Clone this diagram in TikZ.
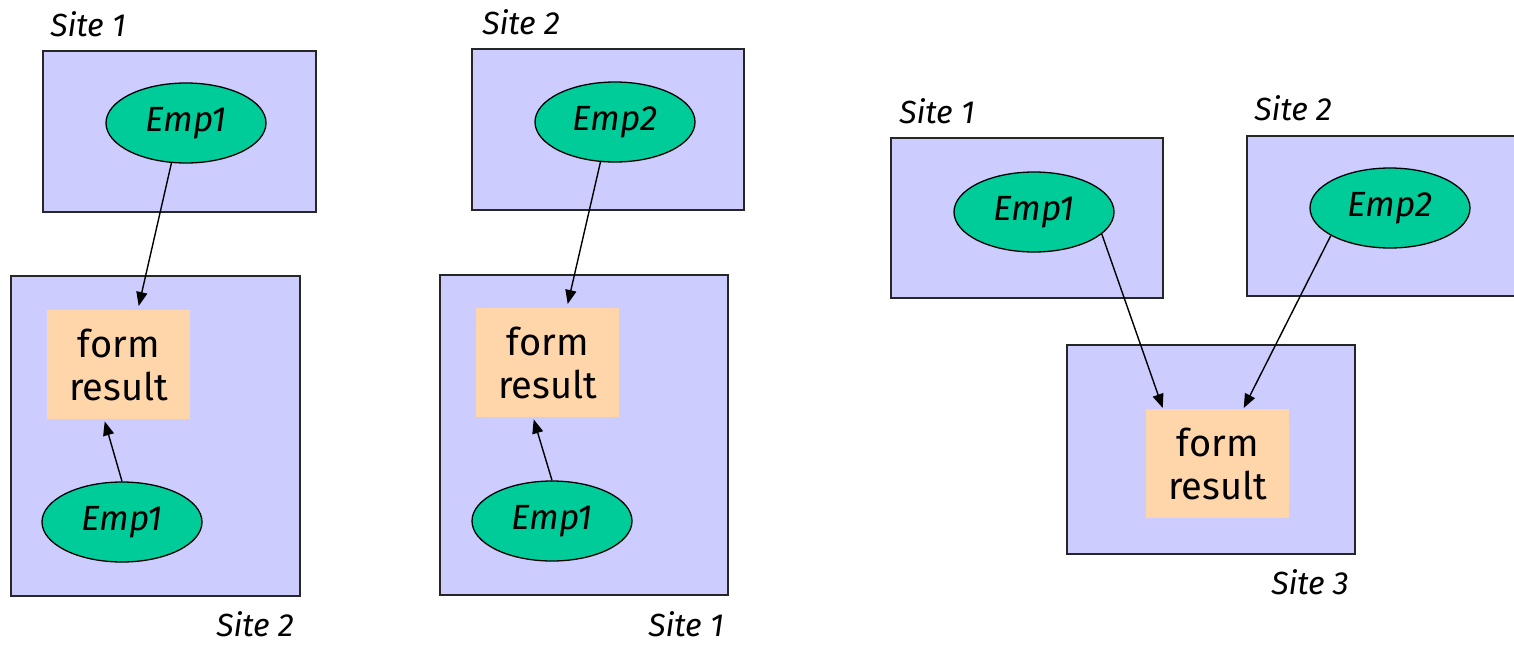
\documentclass[tikz,border=0pt]{standalone}
\usepackage{fontspec}
\setmainfont{Fira Sans}
\usetikzlibrary{shapes.geometric,arrows.meta}
\definecolor{sitefill}{HTML}{CCCCFF}
\definecolor{empfill}{HTML}{00CC99}
\definecolor{opfill}{HTML}{FFD5AA}
\begin{document}
\begin{tikzpicture}[x=1pt,y=-1pt,
  sitebox/.style={draw=black!85, line width=1.6pt, fill=sitefill, anchor=north west, inner sep=0pt},
  emp/.style={ellipse, draw=black, line width=1.3pt, fill=empfill, minimum width=160pt,
    minimum height=80pt, inner sep=0pt, font=\fontsize{35}{40}\selectfont\itshape},
  opbox/.style={fill=opfill, anchor=north west, inner sep=0pt, align=center,
    minimum width=143pt, minimum height=109pt, font=\fontsize{38}{43}\selectfont},
  sitelabel/.style={inner sep=0pt, font=\fontsize{32}{36}\selectfont\itshape},
  flow/.style={-{Triangle[length=14pt,width=11pt]}, line width=1.4pt}]
\useasboundingbox (0,0) rectangle (1514,645);
\clip (0,0) rectangle (1514,645);

% ---- left: Emp1 shipped from site 1 to site 2 ----
\node[sitebox, minimum width=273pt, minimum height=161pt] (a1) at (42,50) {};
\node[emp] (ae1) at (186,123) {Emp1};
\node[sitebox, minimum width=289pt, minimum height=320pt] (a2) at (10,275) {};
\node[opbox] (af) at (47,310) {form\\result};
\node[emp] (ae2) at (122,522) {Emp1};
\node[sitelabel] (al1) at (88,24) {Site 1};
\node[sitelabel] (al2) at (255,624) {Site 2};
\draw[flow] (ae1.-110) -- ([xshift=20pt,yshift=4pt]af.north);
\draw[flow] (ae2.north) -- ([xshift=-14pt,yshift=-2pt]af.south);

% ---- middle: Emp2 shipped from site 2 to site 1 ----
\node[sitebox, minimum width=272pt, minimum height=161pt] (b1) at (471,48) {};
\node[emp] (be1) at (615,122) {Emp2};
\node[sitebox, minimum width=288pt, minimum height=320pt] (b2) at (439,274) {};
\node[opbox] (bf) at (476,308) {form\\result};
\node[emp] (be2) at (552,521) {Emp1};
\node[sitelabel] (bl1) at (521,22) {Site 2};
\node[sitelabel] (bl2) at (686,624) {Site 1};
\draw[flow] (be1.-110) -- ([xshift=20pt,yshift=4pt]bf.north);
\draw[flow] (be2.north) -- ([xshift=-14pt,yshift=-2pt]bf.south);

% ---- right: both relations shipped to site 3 ----
\node[sitebox, minimum width=272pt, minimum height=160pt] (c1) at (890,137) {};
\node[emp] (ce1) at (1034,212) {Emp1};
\node[sitebox, minimum width=272pt, minimum height=160pt] (c2) at (1246,135) {};
\node[emp] (ce2) at (1390,208) {Emp2};
\node[sitebox, minimum width=288pt, minimum height=209pt] (c3) at (1066,344) {};
\node[opbox] (cf) at (1146,409) {form\\result};
\node[sitelabel] (cl1) at (937,111) {Site 1};
\node[sitelabel] (cl2) at (1293,108) {Site 2};
\node[sitelabel] (cl3) at (1310,582) {Site 3};
\draw[flow] (ce1.-18) -- ([xshift=-55pt,yshift=1pt]cf.north);
\draw[flow] (ce2.-155) -- ([xshift=26pt,yshift=1pt]cf.north);
\end{tikzpicture}
\end{document}
